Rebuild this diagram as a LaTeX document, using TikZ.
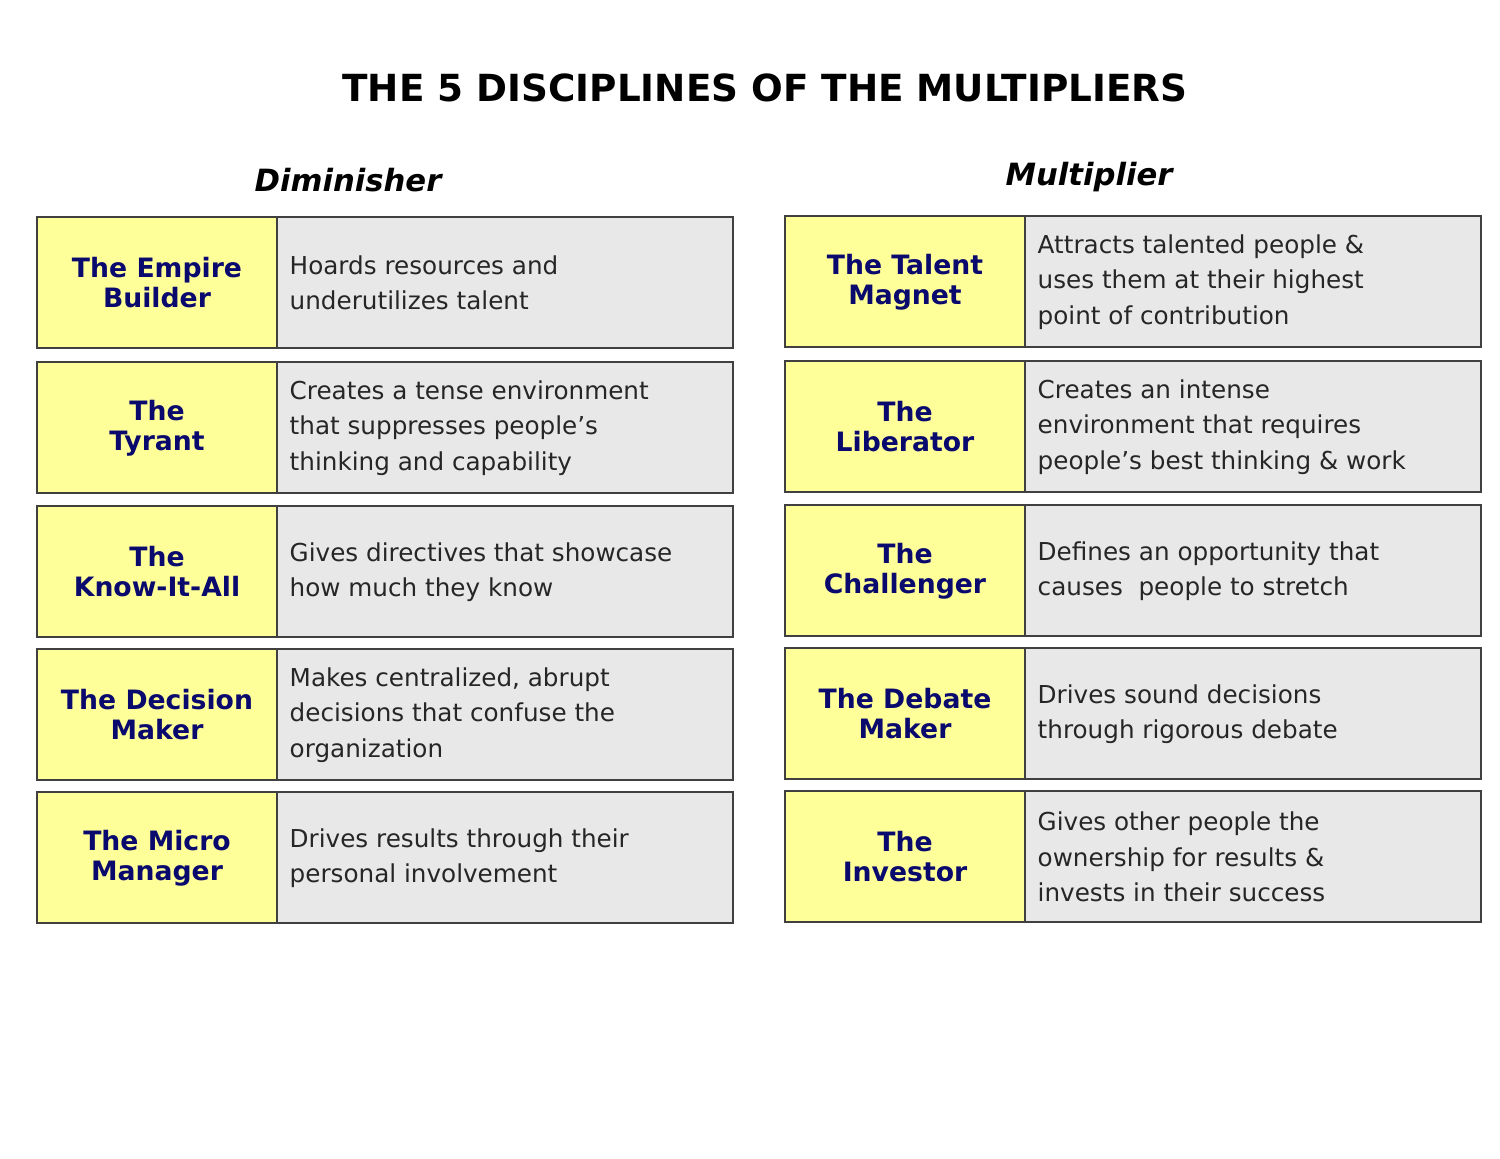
\documentclass[tikz,border=0pt]{standalone}
\usepackage{fontspec}
\setmainfont{DejaVu Sans}
\begin{document}
\begin{tikzpicture}[x=0.75pt,y=-0.75pt,
  ybox/.style={draw=black!75,line width=1.2pt,fill=yellowish},
  gbox/.style={draw=black!75,line width=1.2pt,fill=grayish},
  ytext/.style={font=\fontsize{20}{22.5}\selectfont\bfseries,text=navyc,align=center},
  gtext/.style={font=\fontsize{18.5}{26.5}\selectfont,text=black!85,align=left,anchor=west},
  hd/.style={font=\fontsize{23}{26}\selectfont\bfseries\itshape}]
\definecolor{yellowish}{HTML}{FFFF99}
\definecolor{grayish}{HTML}{E8E8E8}
\definecolor{navyc}{HTML}{0A0A6E}
\useasboundingbox (0,0) rectangle (1500,1159);
\node[font=\fontsize{28}{32}\selectfont\bfseries] (title) at (765,88) {THE 5 DISCIPLINES OF THE MULTIPLIERS};
\node[hd] (hl) at (348,180) {Diminisher};
\node[hd] (hr) at (1089,177) {Multiplier};
% left
\foreach \t/\a/\b/\c in {217/{The Empire\\Builder}/{Hoards resources and\\underutilizes talent}/l1,
 362/{The\\Tyrant}/{Creates a tense environment\\that suppresses people’s\\thinking and capability}/l2,
 506/{The\\Know-It-All}/{Gives directives that showcase\\how much they know}/l3,
 649/{The Decision\\Maker}/{Makes centralized, abrupt\\decisions that confuse the\\organization}/l4,
 792/{The Micro\\Manager}/{Drives results through their\\personal involvement}/l5}{
  \draw[gbox] (277,\t) rectangle (733,\t+131);
  \draw[ybox] (37,\t) rectangle (277,\t+131);
  \node[ytext] (\c y) at (157,\t+66) {\a};
  \node[gtext] (\c g) at (285,\t+66) {\b};
}
\foreach \t/\a/\b/\c in {216/{The Talent\\Magnet}/{Attracts talented people \&\\uses them at their highest\\point of contribution}/r1,
 361/{The\\Liberator}/{Creates an intense\\environment that requires\\people’s best thinking \& work}/r2,
 505/{The\\Challenger}/{Defines an opportunity that\\causes~ people to stretch}/r3,
 648/{The Debate\\Maker}/{Drives sound decisions\\through rigorous debate}/r4,
 791/{The\\Investor}/{Gives other people the\\ownership for results \&\\invests in their success}/r5}{
  \draw[gbox] (1025,\t) rectangle (1481,\t+131);
  \draw[ybox] (785,\t) rectangle (1025,\t+131);
  \node[ytext] (\c y) at (905,\t+66) {\a};
  \node[gtext] (\c g) at (1033,\t+66) {\b};
}
\end{tikzpicture}
\end{document}
